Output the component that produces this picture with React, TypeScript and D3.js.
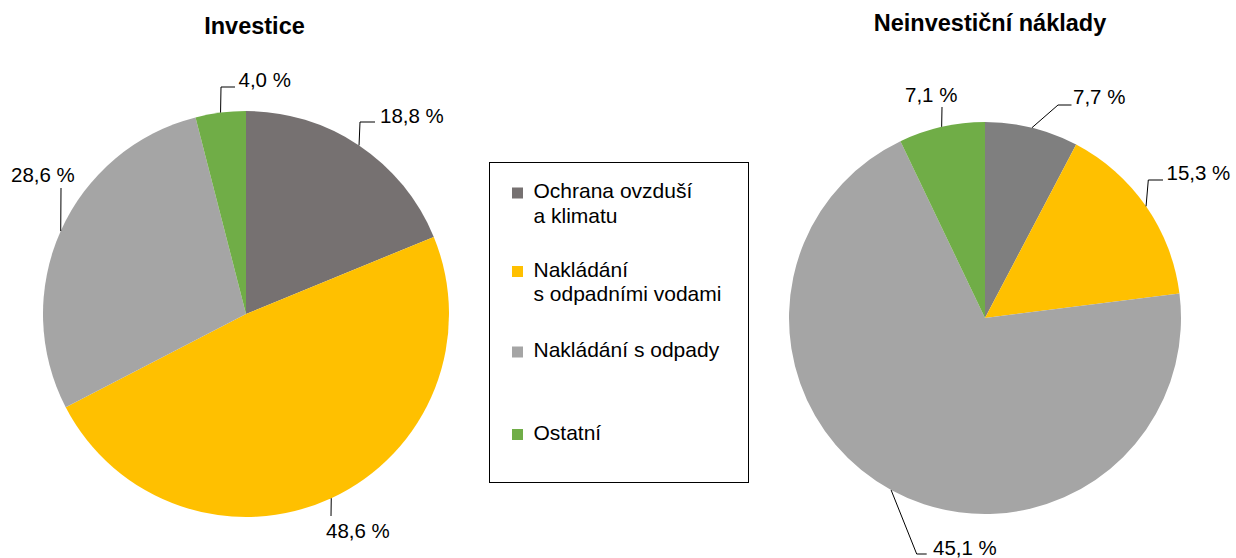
import React from "react";
import * as d3 from "d3";

// ---- Data ----
const categories = [
  "Ochrana ovzduší\na klimatu",
  "Nakládání\ns odpadními vodami",
  "Nakládání s odpady",
  "Ostatní",
];
const investValues = [18.8, 48.6, 28.6, 4.0];
const investLabels = ["18,8 %", "48,6 %", "28,6 %", "4,0 %"];
// slice sizes as drawn in the reference; printed labels kept as shown
const nonInvValues = [7.7, 15.3, 69.9, 7.1];
const nonInvLabels = ["7,7 %", "15,3 %", "45,1 %", "7,1 %"];
const titles = ["Investice", "Neinvestiční náklady"];

// ---- Styles / layout ----
const investColors = ["#767171", "#FFC000", "#A5A5A5", "#70AD47"];
const nonInvColors = ["#7F7F7F", "#FFC000", "#A5A5A5", "#70AD47"];
const FONT = "'Liberation Sans', Arial, sans-serif";

type LabelLayout = { elbow: [number, number]; hEnd?: number; text: [number, number] };

const investLayout: LabelLayout[] = [
  { elbow: [114, -192], hEnd: 129, text: [134, -191.5] },
  { elbow: [85, 202], text: [80, 224] },
  { elbow: [-185, -126], text: [-235, -132.5] },
  { elbow: [-25, -227], hEnd: -11, text: [-7.5, -226.8] },
];
const nonInvLayout: LabelLayout[] = [
  { elbow: [73, -213], hEnd: 86.5, text: [88, -213.8] },
  { elbow: [163.3, -138], hEnd: 178, text: [181.5, -138] },
  { elbow: [-68.3, 236], hEnd: -58.3, text: [-52, 237] },
  { elbow: [-43, -211], text: [-80, -216.5] },
];

const pies = [
  { cx: 246, cy: 314, r: 203, values: investValues, labels: investLabels, colors: investColors, layout: investLayout, title: titles[0], titleX: 254.5, titleY: 33.5 },
  { cx: 985, cy: 318, r: 196, values: nonInvValues, labels: nonInvLabels, colors: nonInvColors, layout: nonInvLayout, title: titles[1], titleX: 990, titleY: 30.5 },
];

const legendBox = { x: 489.5, y: 162.5, w: 259, h: 320 };
const legendBaselines = [198, 276.5, 357, 439.5];

function PieChart(p: typeof pies[number]) {
  const pieGen = d3.pie<number>().sort(null).value((d) => d);
  const arcs = pieGen(p.values);
  const arcGen = d3.arc<d3.PieArcDatum<number>>().innerRadius(0).outerRadius(p.r);
  return (
    <g>
      <text x={p.titleX} y={p.titleY} textAnchor="middle" fontFamily={FONT} fontWeight="bold" fontSize={23.5} fill="#000">
        {p.title}
      </text>
      <g transform={`translate(${p.cx},${p.cy})`}>
        {arcs.map((a, i) => (
          <path key={i} d={arcGen(a) || ""} fill={p.colors[i]} />
        ))}
        {arcs.map((a, i) => {
          const mid = (a.startAngle + a.endAngle) / 2;
          const sx = p.r * Math.sin(mid);
          const sy = -p.r * Math.cos(mid);
          const L = p.layout[i];
          const pts: [number, number][] = [[sx, sy], L.elbow];
          if (L.hEnd !== undefined) pts.push([L.hEnd, L.elbow[1]]);
          const line = d3.line()(pts) || "";
          return (
            <g key={"l" + i}>
              <path d={line} fill="none" stroke="#000" strokeWidth={1} />
              <text x={L.text[0]} y={L.text[1]} fontFamily={FONT} fontSize={20.5} fill="#000">
                {p.labels[i]}
              </text>
            </g>
          );
        })}
      </g>
    </g>
  );
}

export default function App() {
  return (
    <svg
      width={1236}
      height={558}
      style={{ position: "absolute", left: 0, top: 0, background: "#fff" }}
    >
      <rect x={0} y={0} width={1236} height={558} fill="#fff" />
      {pies.map((p, i) => (
        <PieChart key={i} {...p} />
      ))}
      <rect x={legendBox.x} y={legendBox.y} width={legendBox.w} height={legendBox.h} fill="none" stroke="#000" strokeWidth={1} />
      {categories.map((c, i) => {
        const by = legendBaselines[i];
        const lines = c.split("\n");
        return (
          <g key={i}>
            <rect x={512} y={by - 10.5} width={11} height={11} fill={investColors[i]} />
            {lines.map((ln, j) => (
              <text key={j} x={533.5} y={by + j * 24.5} fontFamily={FONT} fontSize={21} fill="#000">
                {ln}
              </text>
            ))}
          </g>
        );
      })}
    </svg>
  );
}
